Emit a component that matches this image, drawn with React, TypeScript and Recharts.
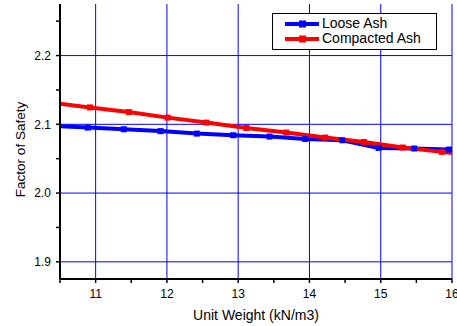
import React from 'react';
import { LineChart, Line, XAxis, YAxis, ReferenceLine, Legend } from 'recharts';

const looseX = [10.38, 10.89, 11.395, 11.91, 12.42, 12.93, 13.44, 13.94, 14.46, 14.97, 15.47, 15.96];
const looseY = [2.0976, 2.0952, 2.0928, 2.0901, 2.0865, 2.0841, 2.0822, 2.0787, 2.0768, 2.0657, 2.0648, 2.0633];
const compactX = [10.374, 10.92, 11.465, 12.01, 12.556, 13.115, 13.675, 14.22, 14.765, 15.31, 15.857, 16.4];
const compactY = [2.1316, 2.1246, 2.1178, 2.1097, 2.1025, 2.0946, 2.088, 2.0807, 2.0743, 2.0662, 2.0599, 2.0535];

const xTicks = [10.5, 11, 11.5, 12, 12.5, 13, 13.5, 14, 14.5, 15, 15.5, 16];
const yTicks = [1.9, 1.95, 2.0, 2.05, 2.1, 2.15, 2.2, 2.25];
const xGrid = [11, 12, 13, 14, 15, 16];
const yGrid = [1.9, 2.0, 2.1, 2.2];
const xDomain = [10.5, 16];
const yDomain = [1.875, 2.275];

const seriesNames = ['Loose Ash', 'Compacted Ash'];
const seriesColors = ['#0000FF', '#FF0000'];

const looseData = looseX.map((x, i) => ({ x, y: looseY[i] }));
const compactData = compactX.map((x, i) => ({ x, y: compactY[i] }));

const FONT = '"Liberation Sans", Arial, Helvetica, sans-serif';

const makeDot = (color: string) => (p: any) => {
  const { cx, cy, index } = p;
  if (cx == null || cy == null) return <g key={`d${index}`} />;
  return <rect key={`d${index}`} x={cx - 3} y={cy - 3} width={6} height={6} fill={color} />;
};

const LegendBox = () => (
  <div
    style={{
      border: '1px solid #000',
      background: '#fff',
      width: 163,
      height: 33,
      paddingTop: 2,
      boxSizing: 'content-box',
      fontFamily: FONT,
      fontSize: 14,
      color: '#000',
    }}
  >
    {seriesNames.map((n, i) => (
      <div key={n} style={{ display: 'flex', alignItems: 'center', height: 15, marginLeft: 12 }}>
        <svg width={34} height={10} style={{ display: 'block' }}>
          <line x1={0} y1={5} x2={34} y2={5} stroke={seriesColors[i]} strokeWidth={4} />
          <rect x={14} y={1.5} width={7} height={7} fill={seriesColors[i]} />
        </svg>
        <span style={{ marginLeft: 3, lineHeight: '15px' }}>{n}</span>
      </div>
    ))}
  </div>
);

const isMajorX = (v: number) => Math.abs(v - Math.round(v)) < 1e-6;
const isMajorY = (v: number) => Math.abs(v * 10 - Math.round(v * 10)) < 1e-6;

const YLabel = (props: any) => {
  const vb = props.viewBox || { x: 0, y: 0, width: 60, height: 275 };
  const cx = 20;
  const cy = vb.y + vb.height / 2 + 8;
  return (
    <text
      x={cx}
      y={cy}
      transform={`rotate(-90 ${cx} ${cy})`}
      textAnchor="middle"
      dominantBaseline="central"
      fontSize={13.5}
      fill="#000"
      fontFamily={FONT}
    >
      Factor of Safety
    </text>
  );
};

export default function App() {
  return (
    <div style={{ position: 'absolute', left: 0, top: 0, width: 457, height: 326, background: '#fff' }}>
      <LineChart
        width={457}
        height={326}
        margin={{ top: 4, right: 5, bottom: 0, left: 0 }}
        style={{ fontFamily: FONT }}
      >
        <XAxis
          xAxisId="b"
          type="number"
          dataKey="x"
          domain={xDomain}
          allowDataOverflow
          ticks={xTicks}
          interval={0}
          tickFormatter={(v: number) => (isMajorX(v) ? String(v) : '')}
          tickSize={4}
          tickMargin={6}
          height={47}
          axisLine={{ stroke: '#000', strokeWidth: 2 }}
          tickLine={{ stroke: '#000', strokeWidth: 1.5 }}
          tick={{ fill: '#000', fontSize: 12 }}
          label={{ value: 'Unit Weight (kN/m3)', position: 'insideBottom', offset: 6, fill: '#000', fontSize: 14 }}
        />
        <XAxis
          xAxisId="t"
          orientation="top"
          type="number"
          domain={xDomain}
          allowDataOverflow
          ticks={xTicks}
          interval={0}
          mirror
          tick={false}
          tickSize={4}
          height={0}
          axisLine={{ stroke: '#000', strokeWidth: 2 }}
          tickLine={{ stroke: '#000', strokeWidth: 1.5 }}
        />
        <YAxis
          yAxisId="l"
          type="number"
          domain={yDomain}
          allowDataOverflow
          ticks={yTicks}
          interval={0}
          tickFormatter={(v: number) => (isMajorY(v) ? v.toFixed(1) : '')}
          tickSize={4}
          tickMargin={5}
          width={60}
          axisLine={{ stroke: '#000', strokeWidth: 2 }}
          tickLine={{ stroke: '#000', strokeWidth: 1.5 }}
          tick={{ fill: '#000', fontSize: 12 }}
          label={<YLabel />}
        />
        <YAxis
          yAxisId="r"
          orientation="right"
          type="number"
          domain={yDomain}
          allowDataOverflow
          ticks={yTicks}
          interval={0}
          mirror
          tick={false}
          tickSize={4}
          width={0}
          axisLine={{ stroke: '#333', strokeWidth: 3 }}
          tickLine={{ stroke: '#333', strokeWidth: 1.5 }}
        />
        {xGrid.map((v) => (
          <ReferenceLine key={`gx${v}`} x={v} xAxisId="b" yAxisId="l" stroke="#0000FF" strokeWidth={1} />
        ))}
        {yGrid.map((v) => (
          <ReferenceLine key={`gy${v}`} y={v} xAxisId="b" yAxisId="l" stroke="#0000FF" strokeWidth={1} />
        ))}
        <Line
          data={looseData}
          dataKey="y"
          xAxisId="b"
          yAxisId="l"
          name={seriesNames[0]}
          stroke={seriesColors[0]}
          strokeWidth={4}
          dot={makeDot(seriesColors[0])}
          activeDot={false}
          isAnimationActive={false}
        />
        <Line
          data={compactData}
          dataKey="y"
          xAxisId="b"
          yAxisId="l"
          name={seriesNames[1]}
          stroke={seriesColors[1]}
          strokeWidth={4}
          dot={makeDot(seriesColors[1])}
          activeDot={false}
          isAnimationActive={false}
        />
        <Legend
          layout="horizontal"
          verticalAlign="middle"
          align="center"
          content={() => <LegendBox />}
          wrapperStyle={{ left: 272, top: 13, width: 165, height: 35 }}
        />
      </LineChart>
    </div>
  );
}
